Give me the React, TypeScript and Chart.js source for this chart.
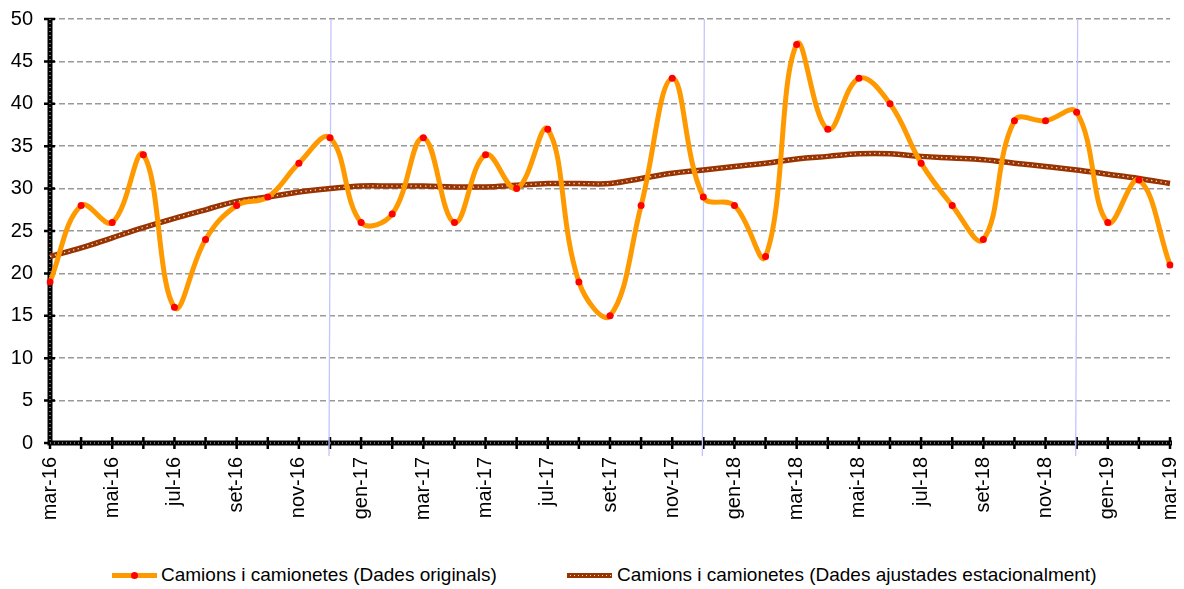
import React, { useEffect, useRef } from "react";
import { Chart, registerables } from "chart.js";

Chart.register(...registerables);

const labels = [
  "mar-16", "abr-16", "mai-16", "jun-16", "jul-16", "ago-16", "set-16", "oct-16", "nov-16", "des-16",
  "gen-17", "feb-17", "mar-17", "abr-17", "mai-17", "jun-17", "jul-17", "ago-17", "set-17", "oct-17", "nov-17", "des-17",
  "gen-18", "feb-18", "mar-18", "abr-18", "mai-18", "jun-18", "jul-18", "ago-18", "set-18", "oct-18", "nov-18", "des-18",
  "gen-19", "feb-19", "mar-19",
];

const originals = [
  19, 28, 26, 34, 16, 24, 28, 29, 33, 36,
  26, 27, 36, 26, 34, 30, 37, 19, 15, 28, 43, 29,
  28, 22, 47, 37, 43, 40, 33, 28, 24, 38, 38, 39,
  26, 31, 21,
];

const ajustades = [
  22.0, 23.0, 24.2, 25.4, 26.5, 27.5, 28.5, 29.0, 29.6, 30.0,
  30.3, 30.3, 30.3, 30.2, 30.2, 30.4, 30.6, 30.6, 30.6, 31.2, 31.8, 32.2,
  32.6, 33.0, 33.5, 33.8, 34.1, 34.1, 33.8, 33.6, 33.4, 33.0, 32.6, 32.2,
  31.7, 31.2, 30.6,
];

const yearMarks = ["des-16", "des-17", "des-18"];

const serieOriginal = "Camions i camionetes (Dades originals)";
const serieAjustada = "Camions i camionetes (Dades ajustades estacionalment)";

const FONT = "'Liberation Sans', Arial, sans-serif";

const axesPlugin = {
  id: "excelAxes",
  beforeDatasetsDraw(chart: any) {
    const { ctx, chartArea: a, scales } = chart;
    const x = scales.x;
    const y = scales.y;
    ctx.save();
    ctx.strokeStyle = "#000";
    ctx.lineWidth = 5;
    ctx.lineCap = "butt";
    ctx.beginPath();
    ctx.moveTo(a.left, a.top - 1);
    ctx.lineTo(a.left, a.bottom);
    ctx.lineTo(a.right + 2, a.bottom);
    ctx.stroke();
    ctx.lineWidth = 2.5;
    ctx.beginPath();
    for (let v = 0; v <= 50; v += 5) {
      const py = y.getPixelForValue(v);
      ctx.moveTo(a.left - 6, py);
      ctx.lineTo(a.left + 5, py);
    }
    for (let i = 0; i < labels.length; i++) {
      const px = x.getPixelForValue(i);
      ctx.moveTo(px, a.bottom - 6);
      ctx.lineTo(px, a.bottom + 6);
    }
    ctx.stroke();
    ctx.strokeStyle = "rgba(255,255,255,0.85)";
    ctx.lineWidth = 1;
    ctx.setLineDash([1, 3]);
    ctx.beginPath();
    ctx.moveTo(a.left, a.top);
    ctx.lineTo(a.left, a.bottom);
    ctx.moveTo(a.left, a.bottom);
    ctx.lineTo(a.right + 2, a.bottom);
    ctx.stroke();
    ctx.setLineDash([]);
    ctx.strokeStyle = "#c4c4ff";
    ctx.lineWidth = 1.3;
    ctx.beginPath();
    yearMarks.forEach((m) => {
      const px = x.getPixelForValue(labels.indexOf(m));
      ctx.moveTo(px + 1, a.top);
      ctx.lineTo(px - 1, a.bottom + 13);
    });
    ctx.stroke();
    ctx.restore();
  },
};

export default function App() {
  const ref = useRef<HTMLCanvasElement | null>(null);

  useEffect(() => {
    if (!ref.current) return;
    const chart = new Chart(ref.current, {
      type: "line",
      data: {
        labels,
        datasets: [
          {
            label: serieOriginal,
            data: originals,
            borderColor: "#FF9900",
            borderWidth: 5,
            tension: 0.4,
            pointRadius: 3.5,
            pointBackgroundColor: "#FF0000",
            pointBorderWidth: 0,
            pointHoverRadius: 3.5,
          },
          {
            label: "dots",
            data: ajustades,
            borderColor: "rgba(255,255,255,0.85)",
            borderWidth: 1.3,
            borderDash: [1.3, 3.5],
            tension: 0.4,
            pointRadius: 0,
          },
          {
            label: serieAjustada,
            data: ajustades,
            borderColor: "#993300",
            borderWidth: 5.5,
            tension: 0.4,
            pointRadius: 0,
          },
        ],
      },
      options: {
        animation: false,
        responsive: true,
        maintainAspectRatio: false,
        layout: { padding: { top: 11, right: 6, left: 0, bottom: 0 } },
        plugins: {
          legend: { display: false },
          tooltip: { enabled: false },
        },
        scales: {
          x: {
            grid: { display: false, drawTicks: false },
            border: { display: false },
            ticks: {
              autoSkip: false,
              maxRotation: 90,
              minRotation: 90,
              padding: 14,
              color: "#000",
              font: { family: FONT, size: 20 },
              callback: (_v: any, i: number) => (i % 2 === 0 ? labels[i] : ""),
            },
            afterFit: (s: any) => {
              s.height = 110;
              s.paddingLeft = 0;
              s.paddingRight = 0;
            },
          },
          y: {
            min: 0,
            max: 50,
            grid: { color: "#999999", lineWidth: 1.5, drawTicks: false },
            border: { display: false, dash: [6, 3] },
            ticks: {
              stepSize: 5,
              padding: 17,
              color: "#000",
              font: { family: FONT, size: 20 },
            },
            afterFit: (s: any) => {
              s.width = 42;
              s.paddingTop = 0;
              s.paddingBottom = 0;
            },
          },
        },
      },
      plugins: [axesPlugin],
    });
    return () => chart.destroy();
  }, []);

  const textStyle: React.CSSProperties = {
    position: "absolute",
    top: 556,
    fontFamily: FONT,
    fontSize: 19,
    lineHeight: "22px",
    color: "#000",
    whiteSpace: "nowrap",
  };

  return (
    <div style={{ position: "relative", width: 1168, height: 581 }}>
      <div style={{ position: "absolute", left: 0, top: 0, width: 1168, height: 545 }}>
        <canvas ref={ref} />
      </div>
      <div style={{ position: "absolute", left: 104, top: 565, width: 45, height: 5, background: "#FF9900" }} />
      <div style={{ position: "absolute", left: 123, top: 564, width: 7, height: 7, borderRadius: 4, background: "#FF0000" }} />
      <div style={{ ...textStyle, left: 153 }}>{serieOriginal}</div>
      <div
        style={{
          position: "absolute",
          left: 559,
          top: 565,
          width: 45,
          height: 5,
          background: "#993300",
          backgroundImage:
            "repeating-linear-gradient(90deg, transparent 0 3px, rgba(255,255,255,0.85) 3px 4px)",
          backgroundSize: "100% 1px",
          backgroundRepeat: "no-repeat",
          backgroundPosition: "0 2px",
        }}
      />
      <div style={{ ...textStyle, left: 609 }}>{serieAjustada}</div>
    </div>
  );
}
